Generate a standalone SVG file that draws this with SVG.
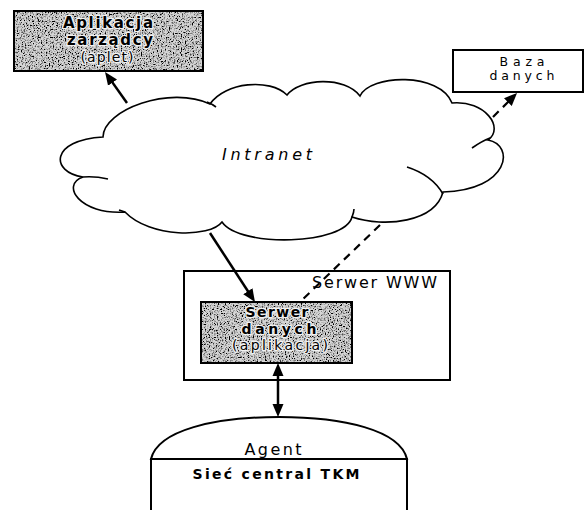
<svg xmlns="http://www.w3.org/2000/svg" width="584" height="510" viewBox="0 0 584 510">
<style>
.box{stroke:#000;stroke-width:2;fill:#fff}
.grainbox{stroke:none;fill:#d6d6d6}
.frame{fill:none;stroke:#000;stroke-width:2}
.t{font-family:"DejaVu Sans","Liberation Sans",Arial,sans-serif;fill:#000}
.b{font-weight:bold}
.halo{stroke:#f2f2f2;stroke-width:2.5;paint-order:stroke;stroke-linejoin:round}
.ln{stroke:#000;stroke-width:2.5;fill:none}
.dash{stroke:#000;stroke-width:2.2;fill:none;stroke-dasharray:8 6}
.cloud{stroke:#000;stroke-width:1.6;fill:#fff}
.hook{stroke:#000;stroke-width:1.6;fill:none}
</style>
<defs>
<filter id="grain" x="0" y="0" width="100%" height="100%">
<feTurbulence type="fractalNoise" baseFrequency="0.75" numOctaves="2" seed="4" result="t"/>
<feColorMatrix in="t" type="matrix" values="0 0 0 0 0  0 0 0 0 0  0 0 0 0 0  -4 0 0 0 2.2" result="a"/>
<feComposite in="a" in2="SourceGraphic" operator="in" result="s"/>
<feMerge><feMergeNode in="SourceGraphic"/><feMergeNode in="s"/></feMerge>
</filter>
<marker id="ah" markerUnits="userSpaceOnUse" markerWidth="14" markerHeight="12" viewBox="0 0 14 12" refX="7" refY="6" orient="auto-start-reverse">
<path d="M0,0.5 L13,6 L0,11.5 z" fill="#000"/>
</marker>
</defs>

<g id="intranet">
<path class="cloud" d="M83,177 C50,172 50,140 103,137 C103,110 170,85 210,104 C225,82 270,78 287,95 C300,78 345,76 360,96 C370,74 440,72 452,103 C485,100 505,128 488,140 C515,145 510,190 443,192 C435,222 385,228 352,217 C345,245 240,248 222,222 C210,238 150,238 125,212 C80,215 60,185 83,177 Z"/>
<path class="hook" d="M83,177 Q95,176 108,179 M407,167 Q432,175 443,194 M472,148 Q482,141 490,138 M352,217 Q354,212 354,209 M207,102 Q212,104 216,107 M125,212 Q122,211 119,210"/>
<text class="t" x="222" y="160" font-size="16" font-style="italic" textLength="90" lengthAdjust="spacing">Intranet</text>
</g>

<g id="aplikacja">
<rect class="grainbox" x="14" y="11" width="189" height="60" filter="url(#grain)"/>
<rect class="frame" x="14" y="11" width="189" height="60"/>
<text class="t b halo" x="108" y="28" font-size="15" text-anchor="middle" textLength="90" lengthAdjust="spacing">Aplikacja</text>
<text class="t b halo" x="110" y="45" font-size="15" text-anchor="middle" textLength="86" lengthAdjust="spacing">zarządcy</text>
<text class="t halo" x="107" y="62" font-size="14" text-anchor="middle" textLength="53" lengthAdjust="spacing">(aplet)</text>
</g>

<g id="baza">
<rect class="box" x="453" y="50" width="130" height="42" stroke-width="1.6"/>
<text class="t" x="522" y="66" font-size="12.5" text-anchor="middle" textLength="45" lengthAdjust="spacing">Baza</text>
<text class="t" x="522" y="80" font-size="12.5" text-anchor="middle" textLength="65" lengthAdjust="spacing">danych</text>
</g>

<g id="serwer-www">
<rect class="box" x="184" y="271" width="266" height="109"/>
<text class="t" x="312" y="288" font-size="16" textLength="125" lengthAdjust="spacing">Serwer WWW</text>
</g>

<g id="serwer-danych">
<rect class="grainbox" x="201" y="302" width="151" height="61" filter="url(#grain)"/>
<rect class="frame" x="201" y="302" width="151" height="61"/>
<text class="t b halo" x="277" y="317" font-size="14" text-anchor="middle" textLength="63" lengthAdjust="spacing">Serwer</text>
<text class="t b halo" x="279" y="334" font-size="14" text-anchor="middle" textLength="75" lengthAdjust="spacing">danych</text>
<text class="t halo" x="280" y="350" font-size="14" text-anchor="middle" textLength="96" lengthAdjust="spacing">(aplikacja)</text>
</g>

<g id="agent">
<path class="box" d="M151,459 C158,430 215,417 279,417 C343,417 400,430 407,459 Z"/>
<path class="box" d="M151,512 L151,459 L407,459 L407,512"/>
<text class="t" x="273" y="455" font-size="16" text-anchor="middle" textLength="57" lengthAdjust="spacing">Agent</text>
<text class="t b" x="276" y="479" font-size="14" text-anchor="middle" textLength="167" lengthAdjust="spacing">Sieć central TKM</text>
</g>

<g id="connectors">
<path class="ln" d="M127,103 L108.5,76.9" marker-end="url(#ah)"/>
<path class="ln" d="M210,233 L251.7,297" marker-end="url(#ah)"/>
<path class="dash" d="M380,225 L302,300"/>
<path class="dash" d="M493,117 L512.8,97.2" marker-end="url(#ah)"/>
<path class="ln" d="M278,369 L278,411" stroke-width="3.2" marker-start="url(#ah)" marker-end="url(#ah)"/>
</g>
</svg>
